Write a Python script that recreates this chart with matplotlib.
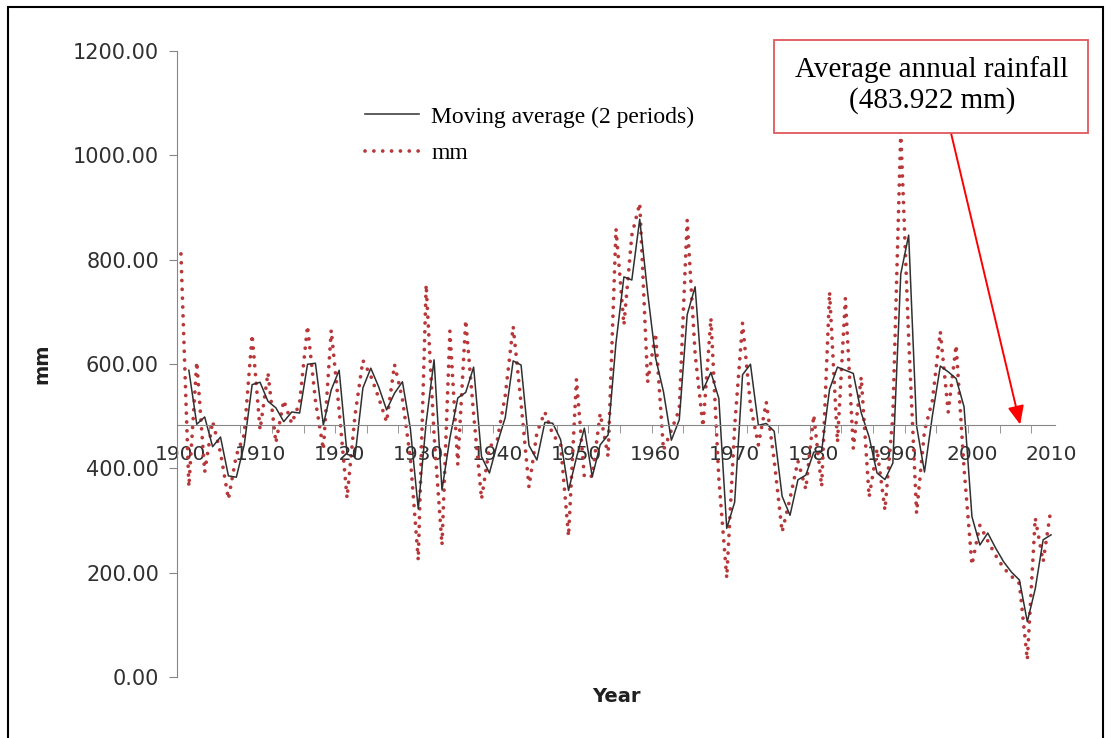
import numpy as np
import pandas as pd
import matplotlib
matplotlib.use('Agg')
import matplotlib.pyplot as plt
from matplotlib.patches import Rectangle
from matplotlib.ticker import FormatStrFormatter

# Annual rainfall (mm), 1900-2010
years = list(range(1900, 2011))
mm = [811, 365, 604, 393, 490, 430, 341, 425, 465, 656,
      474, 583, 449, 530, 486, 526, 673, 530, 436, 665,
      511, 343, 501, 607, 577, 535, 489, 599, 533, 420,
      224, 752, 464, 253, 663, 407, 684, 504, 341, 441,
      455, 540, 672, 524, 364, 468, 508, 465, 445, 270,
      571, 383, 385, 505, 423, 859, 675, 847, 908, 565,
      659, 435, 473, 513, 876, 620, 480, 688, 380, 190,
      480, 679, 520, 445, 527, 415, 278, 342, 414, 360,
      502, 365, 738, 450, 726, 438, 575, 345, 437, 320,
      500, 1045, 649, 314, 472, 530, 662, 508, 636, 400,
      215, 291, 261, 233, 209, 193, 179, 33, 305, 221,
      324]
avg_rain = 483.922
y_ticks = [0, 200, 400, 600, 800, 1000, 1200]
x_labels = list(range(1900, 2011, 10))

df = pd.DataFrame({'year': years, 'mm': mm})
df['ma'] = df['mm'].rolling(window=2).mean()

W, H = 1111, 738
fig = plt.figure(figsize=(W / 100, H / 100), dpi=100)
ax = fig.add_axes([177 / W, 1 - 677 / H, (1055 - 177) / W, (677 - 51) / H])

grey = '#868686'
red_dots = '#b8383a'

# rainfall (dotted) and the moving average
ax.plot(df['year'], df['mm'], color=red_dots, lw=2.7,
        linestyle=(0, (0.01, 2.35)), dash_capstyle='round', label='mm')
ax.plot(df['year'], df['ma'], color='#303030', lw=1.1,
        label='Moving average (2 periods)')

ax.set_xlim(1899.5, 2010.5)
ax.set_ylim(0, 1200)

# axes styling
for s in ['top', 'right']:
    ax.spines[s].set_visible(False)
ax.spines['left'].set_color(grey)
ax.spines['bottom'].set_color(grey)
ax.spines['bottom'].set_position(('data', avg_rain))

ax.set_yticks(y_ticks)
ax.yaxis.set_major_formatter(FormatStrFormatter('%.2f'))
ax.tick_params(axis='y', direction='out', length=6, color=grey,
               labelsize=15, labelcolor='#303030', pad=7)

ax.set_xticks(x_labels)
ax.set_xticks(np.arange(1899.5, 2011, 4), minor=True)
ax.tick_params(axis='x', which='major', length=0, labelsize=14.5,
               labelcolor='#303030', pad=15)
ax.tick_params(axis='x', which='minor', direction='out', length=6, color=grey)

ax.set_xlabel('Year', fontsize=14, fontweight='bold', color='#202020',
              va='center')
ax.xaxis.set_label_coords(0.5, -(696 - 677) / 626)
ax.set_ylabel('mm', fontsize=14, fontweight='bold', color='#202020')
ax.yaxis.set_label_coords(-0.143, 0.5)

# legend (moving average first, as in the original)
h, l = ax.get_legend_handles_labels()
ax.legend([h[1], h[0]], [l[1], l[0]], loc='upper left',
          bbox_to_anchor=(365 / W, 1 - 106 / H), bbox_transform=fig.transFigure,
          frameon=False, borderpad=0, borderaxespad=0, handlelength=2.3,
          handletextpad=0.5, labelspacing=0.65,
          prop={'family': 'Liberation Serif', 'size': 17})

# annotation box with arrow to the average line
fig.patches.append(Rectangle((774 / W, 1 - 133 / H), (1088 - 774) / W, 93 / H,
                             transform=fig.transFigure, fc='white',
                             ec='#e0575c', lw=1.3, zorder=5))
fig.text(932 / W, 1 - 85 / H, 'Average annual rainfall\n(483.922 mm)',
         ha='center', va='center', family='Liberation Serif', fontsize=21,
         linespacing=1.2, zorder=6)
ax.annotate('', xy=(2006.1, avg_rain), xycoords='data',
            xytext=(951, H - 133), textcoords='figure pixels',
            arrowprops=dict(arrowstyle='-|>,head_length=0.8,head_width=0.35',
                            mutation_scale=14, color='#ff0000', lw=1.4,
                            shrinkA=0, shrinkB=0),
            annotation_clip=False)

# outer black frame
fig.patches.append(Rectangle((8 / W, -0.02), (1103 - 8) / W, 1.02 - 7 / H,
                             transform=fig.transFigure, fill=False,
                             ec='black', lw=1.5))

fig.savefig('out.png', dpi=100)
